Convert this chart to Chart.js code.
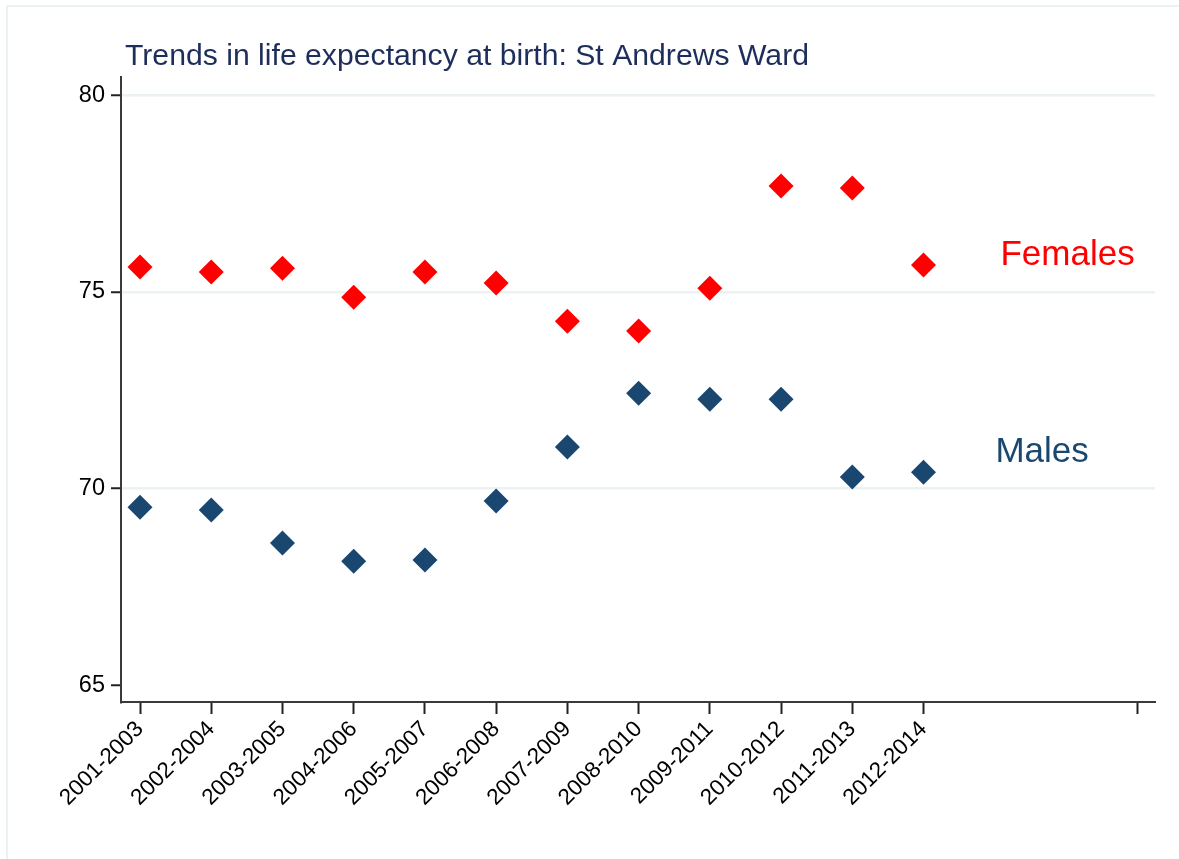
<!DOCTYPE html>
<html>
<head>
<meta charset="utf-8">
<script src="https://cdn.jsdelivr.net/npm/chart.js@4.4.0/dist/chart.umd.min.js"></script>
<style>
  html, body { margin: 0; padding: 0; background: #ffffff; }
  #wrap { width: 1179px; height: 859px; position: relative; }
</style>
</head>
<body>
<div id="wrap"><canvas id="myChart" width="1179" height="859"></canvas></div>
<script>
// Datos del gráfico
const periods = ['2001-2003', '2002-2004', '2003-2005', '2004-2006', '2005-2007', '2006-2008',
                 '2007-2009', '2008-2010', '2009-2011', '2010-2012', '2011-2013', '2012-2014'];
const females = [75.63, 75.50, 75.60, 74.86, 75.50, 75.22, 74.25, 74.00, 75.09, 77.69, 77.64, 75.68];
const males   = [69.52, 69.45, 68.61, 68.15, 68.18, 69.68, 71.05, 72.42, 72.27, 72.27, 70.29, 70.41];
const yTicks = [65, 70, 75, 80];
const xTicks = [1, 2, 3, 4, 5, 6, 7, 8, 9, 10, 11, 12, 15];
const seriesLabels = [
    { text: 'Females', x: 13.08, y: 75.92, color: '#ff0000' },
    { text: 'Males',   x: 13.01, y: 70.92, color: '#1a476f' }
];

const FONT = 'Arial, "Liberation Sans", sans-serif';

// Marco, título y etiquetas de las series
const decorPlugin = {
    id: 'decorPlugin',
    beforeDraw: (chart) => {
        const ctx = chart.ctx;
        ctx.save();
        ctx.fillStyle = '#ffffff';
        ctx.fillRect(0, 0, chart.width, chart.height);
        ctx.strokeStyle = '#eaf2f3';
        ctx.lineWidth = 2;
        ctx.beginPath();
        ctx.moveTo(7, chart.height + 5);
        ctx.lineTo(7, 6);
        ctx.lineTo(chart.width + 5, 6);
        ctx.stroke();
        ctx.restore();
    },
    afterDatasetsDraw: (chart) => {
        const ctx = chart.ctx;
        const xs = chart.scales.x, ys = chart.scales.y;
        ctx.save();
        ctx.fillStyle = '#1e2e5c';
        ctx.font = '30.2px ' + FONT;
        ctx.textAlign = 'left';
        ctx.textBaseline = 'alphabetic';
        ctx.fillText('Trends in life expectancy at birth: St Andrews Ward', 125, 65);
        ctx.font = '35px ' + FONT;
        ctx.textBaseline = 'middle';
        seriesLabels.forEach((l) => {
            ctx.fillStyle = l.color;
            ctx.fillText(l.text, xs.getPixelForValue(l.x), ys.getPixelForValue(l.y));
        });
        ctx.restore();
    }
};

const toPoints = (arr) => arr.map((v, i) => ({ x: i + 1, y: v }));

new Chart(document.getElementById('myChart').getContext('2d'), {
    type: 'scatter',
    data: {
        datasets: [
            {
                label: 'Females',
                data: toPoints(females),
                pointStyle: 'rectRot',
                pointRadius: 12.5,
                pointHoverRadius: 12.5,
                backgroundColor: '#ff0000',
                borderColor: '#ff0000',
                borderWidth: 0
            },
            {
                label: 'Males',
                data: toPoints(males),
                pointStyle: 'rectRot',
                pointRadius: 12.5,
                pointHoverRadius: 12.5,
                backgroundColor: '#1a476f',
                borderColor: '#1a476f',
                borderWidth: 0
            }
        ]
    },
    options: {
        responsive: false,
        animation: false,
        layout: { padding: { top: 77, right: 24, left: 0, bottom: 0 } },
        plugins: {
            legend: { display: false },
            title: { display: false },
            tooltip: { enabled: false }
        },
        scales: {
            x: {
                type: 'linear',
                min: 0.733,
                max: 15.25,
                afterFit: (scale) => { scale.height = 157; },
                afterBuildTicks: (scale) => { scale.ticks = xTicks.map(v => ({ value: v })); },
                border: { color: '#3a3a3a', width: 2 },
                grid: {
                    drawOnChartArea: false,
                    drawTicks: true,
                    tickLength: 12,
                    tickWidth: 2,
                    tickColor: '#222222'
                },
                ticks: {
                    color: '#000000',
                    autoSkip: false,
                    minRotation: 45,
                    maxRotation: 45,
                    padding: 2,
                    font: { family: FONT, size: 22.5 },
                    callback: (v) => periods[v - 1] || ''
                }
            },
            y: {
                min: 64.57,
                max: 80.46,
                afterFit: (scale) => { scale.width = 121; },
                afterBuildTicks: (scale) => { scale.ticks = yTicks.map(v => ({ value: v })); },
                border: { color: '#3a3a3a', width: 2 },
                grid: {
                    color: (c) => (c.tick && c.tick.value === 65) ? 'rgba(0,0,0,0)' : '#eaf2f3',
                    lineWidth: 2.5,
                    drawTicks: true,
                    tickLength: 10,
                    tickWidth: 2,
                    tickColor: '#222222'
                },
                ticks: {
                    color: '#000000',
                    padding: 6,
                    font: { family: FONT, size: 23.5 },
                    callback: (v) => String(v)
                }
            }
        }
    },
    plugins: [decorPlugin]
});
</script>
</body>
</html>
